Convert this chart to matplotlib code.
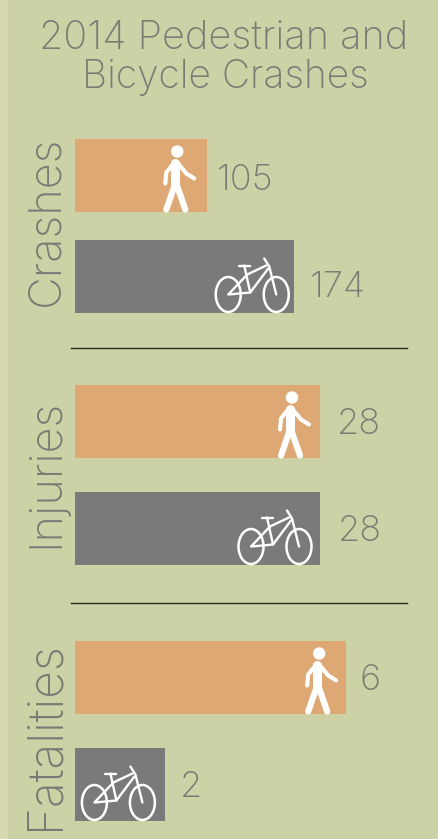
#!/usr/bin/env python

import matplotlib
matplotlib.use('Agg')
from matplotlib import pyplot as plt
from matplotlib.patches import Circle, Ellipse, Rectangle

W, H = 438, 839
BG = '#cdd1a6'
BAND = '#d6d9b0'
ORANGE = '#dea874'
GRAY = '#7a7a7a'
TEXT = '#7a7b75'

plt.rcParams['font.family'] = ['Inter', 'DejaVu Sans']
plt.rcParams['font.weight'] = 'light'

title_lines = ['2014 Pedestrian and', 'Bicycle Crashes']
panels = ['Crashes', 'Injuries', 'Fatalities']
pedestrians = [105, 28, 6]
bicycles = [174, 28, 2]
# bars are not on a shared scale in the original, pixels per unit for each panel
px_per_unit = [1.26, 8.75, 45.2]
# top, bottom of each panel in pixels
panel_tops = [139, 385, 641]
panel_bottoms = [313, 565, 821]
label_centers = [221, 473, 736]
label_sizes = [32.5, 32.5, 34.5]
separators = [348, 603]
# space between bar end and number, and number nudge from bar centre
ped_gaps = [9, 17, 13]
bike_gaps = [15, 18, 14]
ped_nudge = [5, 3, 3]
bike_nudge = [11, 3, 3]
# icon distance from the bar end
walker_inset = [30, 28, 27]
bike_inset = [18, 21, 23]
BAR_PX = 73


def walker(ov, x, y, inset):
    # x, y is the right end / centre of the bar
    hx, hy = x - inset, y - 24
    ov.add_patch(Circle((hx, hy), 5.5, color='white', zorder=5))
    ov.plot([hx - 2, hx - 2], [hy + 11, hy + 32], color='white', lw=6.5, solid_capstyle='round', zorder=5)
    ov.plot([hx - 3, hx - 11, hx - 12], [hy + 11, hy + 21, hy + 32], color='white', lw=3, solid_capstyle='round', zorder=5)
    ov.plot([hx, hx + 9, hx + 17], [hy + 11, hy + 22, hy + 27], color='white', lw=3, solid_capstyle='round', zorder=5)
    ov.plot([hx - 2, hx - 11], [hy + 32, hy + 58], color='white', lw=4.5, solid_capstyle='round', zorder=5)
    ov.plot([hx - 1, hx + 8], [hy + 32, hy + 58], color='white', lw=4.5, solid_capstyle='round', zorder=5)


def bike(ov, x, y, inset):
    # right wheel centre sits relative to the bar end
    cx, cy = x - inset, y + 18
    kw = dict(color='white', lw=1.7, solid_capstyle='round', zorder=5)
    for dx in (0, -48):
        ov.add_patch(Ellipse((cx + dx, cy), 25, 35, fill=False, ec='white', lw=1.8, zorder=5))
    frame = [
        [(-12, -36), (-7, -28), (0, 0)],
        [(-10, -29), (-29, -20)],
        [(-8, -26), (-26, -2), (-48, 0), (-29, -20)],
        [(-32, -29), (-26, -2)],
        [(-37, -29), (-26, -29)],
    ]
    for seg in frame:
        ov.plot([cx + p[0] for p in seg], [cy + p[1] for p in seg], **kw)


def main():
    fig = plt.figure(figsize=(W / 100, H / 100), dpi=100, facecolor=BG)
    ov = fig.add_axes([0, 0, 1, 1], zorder=3)
    ov.set_xlim(0, W)
    ov.set_ylim(H, 0)
    ov.axis('off')
    ov.add_patch(Rectangle((0, 0), 8, H, color=BAND, lw=0))

    left = 75
    for i, name in enumerate(panels):
        top, bottom = panel_tops[i], panel_bottoms[i]
        ax = fig.add_axes([left / W, 1 - bottom / H, (W - left) / W, (bottom - top) / H], zorder=2)
        ax.patch.set_alpha(0)
        ax.axis('off')
        ax.set_xlim(0, (W - left) / px_per_unit[i])
        # y unit = distance between the two bar centres
        b = BAR_PX / (bottom - top - BAR_PX)
        ax.set_ylim(1 + b / 2, -b / 2)
        ax.barh(0, pedestrians[i], height=b, color=ORANGE)
        ax.barh(1, bicycles[i], height=b, color=GRAY)

        y0 = top + BAR_PX / 2
        y1 = bottom - BAR_PX / 2
        x0 = left + pedestrians[i] * px_per_unit[i]
        x1 = left + bicycles[i] * px_per_unit[i]
        walker(ov, x0, y0, walker_inset[i])
        bike(ov, x1, y1, bike_inset[i])
        ov.text(x0 + ped_gaps[i], y0 + ped_nudge[i], str(pedestrians[i]), color=TEXT, fontsize=26, ha='left', va='center')
        ov.text(x1 + bike_gaps[i], y1 + bike_nudge[i], str(bicycles[i]), color=TEXT, fontsize=26, ha='left', va='center')
        ov.text(46, label_centers[i], name, rotation=90, color=TEXT, fontsize=label_sizes[i],
                ha='center', va='center')

    for y in separators:
        ov.plot([71, 407], [y, y], color='#2a2a26', lw=1)

    ov.text(224, 38, title_lines[0], color=TEXT, fontsize=28.5, ha='center', va='center')
    ov.text(225, 77, title_lines[1], color=TEXT, fontsize=28, ha='center', va='center')
    fig.savefig('out.png', dpi=100, facecolor=BG)


main()
